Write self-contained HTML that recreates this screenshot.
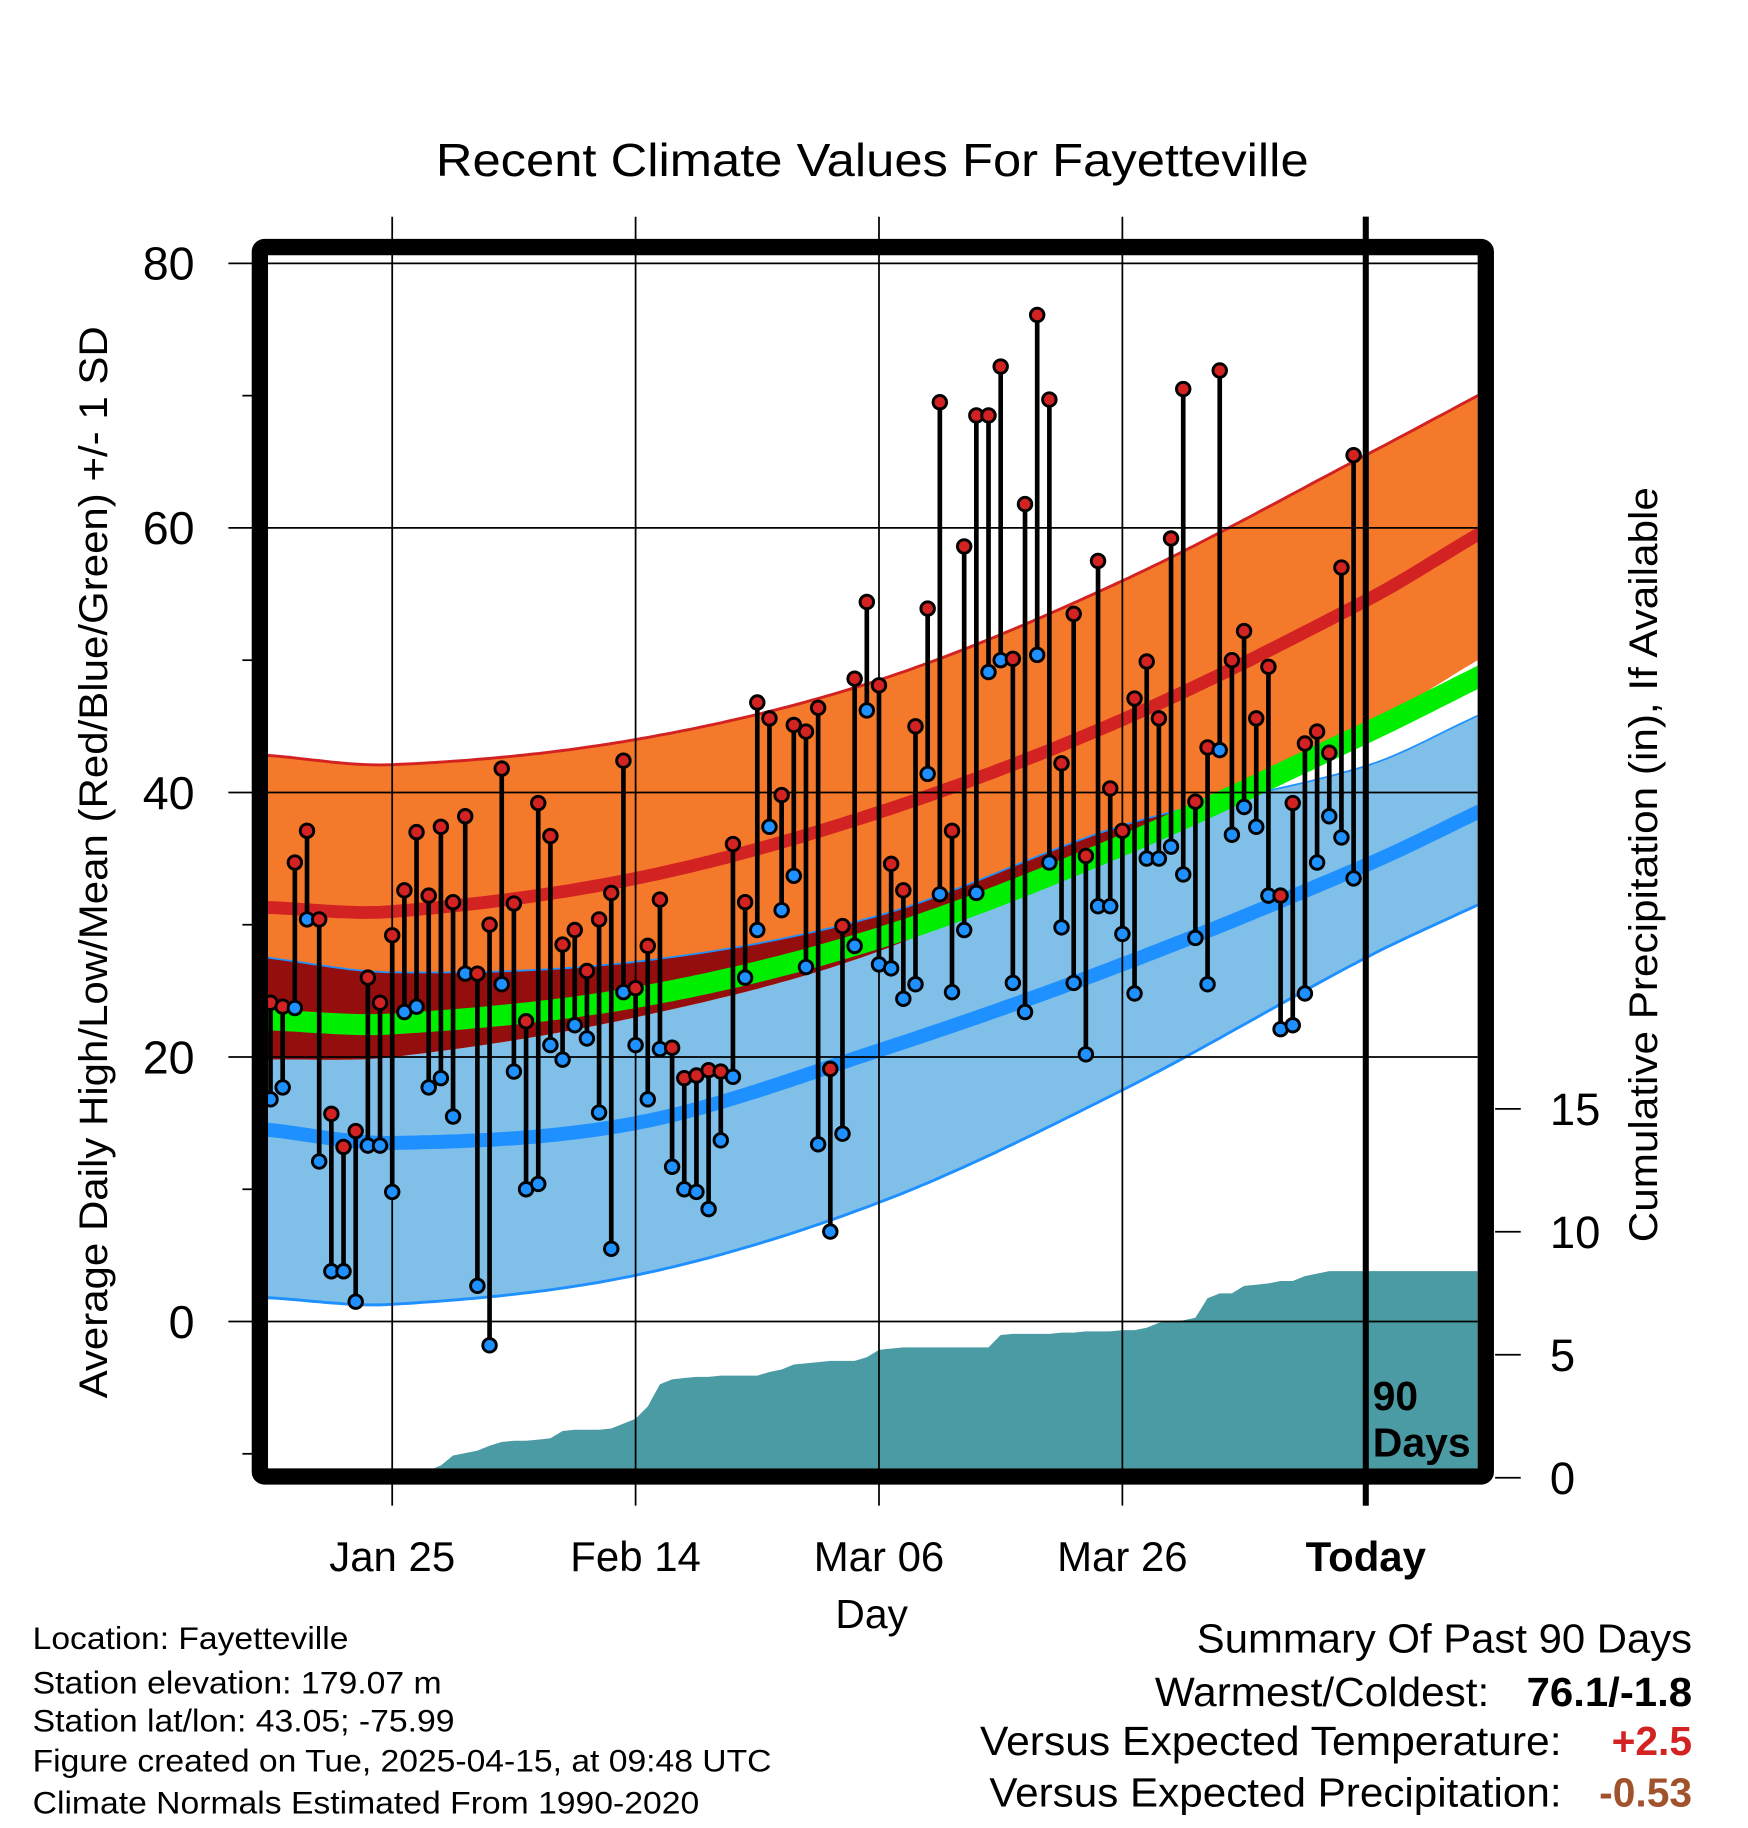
<!DOCTYPE html>
<html><head><meta charset="utf-8"><style>
html,body{margin:0;padding:0;background:#fff;}
svg{display:block;font-family:"Liberation Sans",sans-serif;}
</style></head><body>
<svg id="chart" width="1748" height="1828" viewBox="0 0 1500 1568.6" preserveAspectRatio="none" xmlns="http://www.w3.org/2000/svg">
<rect width="1500" height="1568.6" fill="#fff"/>
<g id="clip-defs"><defs><clipPath id="plotclip"><rect x="230" y="218" width="1038" height="1042"/></clipPath></defs></g>
<g id="bands" clip-path="url(#plotclip)"></g>
<g id="grid"></g>
<g id="marks" clip-path="url(#plotclip)"></g>
<g id="frame"></g>
<g id="texts">
<text x="374" y="151" font-size="40" textLength="749" lengthAdjust="spacingAndGlyphs">Recent Climate Values For Fayetteville</text>
<text transform="translate(92,740) rotate(-90)" text-anchor="middle" font-size="34" textLength="920" lengthAdjust="spacingAndGlyphs">Average Daily High/Low/Mean (Red/Blue/Green) +/- 1 SD</text>
<text transform="translate(1422,742) rotate(-90)" text-anchor="middle" font-size="34" textLength="648" lengthAdjust="spacingAndGlyphs">Cumulative Precipitation (in), If Available</text>
<text x="748" y="1397" text-anchor="middle" font-size="35">Day</text>
<text x="1178" y="1210" font-size="35" font-weight="bold">90</text>
<text x="1178" y="1250" font-size="35" font-weight="bold" textLength="84" lengthAdjust="spacingAndGlyphs">Days</text>
<g font-size="27">
<text x="28" y="1415" textLength="271" lengthAdjust="spacingAndGlyphs">Location: Fayetteville</text>
<text x="28" y="1453" textLength="351" lengthAdjust="spacingAndGlyphs">Station elevation: 179.07 m</text>
<text x="28" y="1486" textLength="362" lengthAdjust="spacingAndGlyphs">Station lat/lon: 43.05; -75.99</text>
<text x="28" y="1520" textLength="634" lengthAdjust="spacingAndGlyphs">Figure created on Tue, 2025-04-15, at 09:48 UTC</text>
<text x="28" y="1556" textLength="572" lengthAdjust="spacingAndGlyphs">Climate Normals Estimated From 1990-2020</text>
</g>
<g font-size="35">
<text x="1027" y="1418" textLength="425" lengthAdjust="spacingAndGlyphs">Summary Of Past 90 Days</text>
<text x="991" y="1464" textLength="287" lengthAdjust="spacingAndGlyphs">Warmest/Coldest:</text>
<text x="1310" y="1464" font-weight="bold" textLength="142" lengthAdjust="spacingAndGlyphs">76.1/-1.8</text>
<text x="841" y="1506" textLength="499" lengthAdjust="spacingAndGlyphs">Versus Expected Temperature:</text>
<text x="1452" y="1506" text-anchor="end" font-weight="bold" fill="#D22222">+2.5</text>
<text x="849" y="1550" textLength="491" lengthAdjust="spacingAndGlyphs">Versus Expected Precipitation:</text>
<text x="1452" y="1550" text-anchor="end" font-weight="bold" fill="#A0522D">-0.53</text>
</g>
</g>
</svg>
<script>
const highs=[24.1,23.8,34.7,37.1,30.4,15.7,13.2,14.4,26.0,24.1,29.2,32.6,37.0,32.2,37.4,31.7,38.2,26.3,30.0,41.8,31.6,22.7,39.2,36.7,28.5,29.6,26.5,30.4,32.4,42.4,25.2,28.4,31.9,20.7,18.4,18.6,19.0,18.9,36.1,31.7,46.8,45.6,39.8,45.1,44.6,46.4,19.1,29.9,48.6,54.4,48.1,34.6,32.6,45.0,53.9,69.5,37.1,58.6,68.5,68.5,72.2,50.1,61.8,76.1,69.7,42.2,53.5,35.2,57.5,40.3,37.1,47.1,49.9,45.6,59.2,70.5,39.3,43.4,71.9,50.0,52.2,45.6,49.5,32.2,39.2,43.7,44.6,43.0,57.0,65.5];
const lows=[16.8,17.7,23.7,30.4,12.1,3.8,3.8,1.5,13.3,13.3,9.8,23.4,23.8,17.7,18.4,15.5,26.3,2.7,-1.8,25.5,18.9,10.0,10.4,20.9,19.8,22.4,21.4,15.8,5.5,24.9,20.9,16.8,20.6,11.7,10.0,9.8,8.5,13.7,18.5,26.0,29.6,37.4,31.1,33.7,26.8,13.4,6.8,14.2,28.4,46.2,27.0,26.7,24.4,25.5,41.4,32.3,24.9,29.6,32.4,49.1,50.0,25.6,23.4,50.4,34.7,29.8,25.6,20.2,31.4,31.4,29.3,24.8,35.0,35.0,35.9,33.8,29.0,25.5,43.2,36.8,38.9,37.4,32.2,22.1,22.4,24.8,34.7,38.2,36.6,33.5];
const precip=[0,0,0,0,0,0,0,0,0,0,0,0,0.1,0.3,0.5,0.9,1.0,1.1,1.3,1.45,1.5,1.5,1.55,1.6,1.9,1.95,1.95,1.95,2.0,2.2,2.4,2.9,3.8,4.0,4.05,4.1,4.1,4.15,4.15,4.15,4.15,4.3,4.4,4.6,4.65,4.7,4.75,4.75,4.75,4.9,5.2,5.25,5.3,5.3,5.3,5.3,5.3,5.3,5.3,5.3,5.8,5.85,5.85,5.85,5.85,5.9,5.9,5.95,5.95,5.95,6.0,6.0,6.1,6.3,6.35,6.4,6.5,7.3,7.5,7.5,7.8,7.85,7.9,8.0,8.0,8.2,8.3,8.4,8.4,8.4];
const normalDays=[-90.2,-80,-60,-40,-20,0,9.2];
const highPlus=[42.8,42.1,44.0,48.5,56.0,65.5,70.0];
const highMean=[31.3,31.0,33.5,38.5,45.5,54.5,59.5];
const highMinus=[19.8,20.0,23.0,28.0,36.5,45.0,50.0];
const meanAvg=[22.8,22.5,24.5,29.0,36.0,44.5,48.7];
const lowPlus=[27.5,26.4,27.2,30.7,37.5,42.0,45.8];
const lowMean=[14.5,13.5,15.0,20.5,27.0,34.5,38.5];
const lowMinus=[1.8,1.3,3.5,9.0,17.5,27.5,31.5];
const yTicks=[0,20,40,60,80];
const y2Ticks=[0,5,10,15];
const xTickDays=[-80,-60,-40,-20,0];
const xTickLabels=['Jan 25','Feb 14','Mar 06','Mar 26','Today'];

const NS='http://www.w3.org/2000/svg';
const X=d=>1172+d*10.443;
const Y=t=>1134-t*11.35;
const Y2=p=>1268-p*21.1;
function el(tag,attrs,parent){const e=document.createElementNS(NS,tag);for(const k in attrs)e.setAttribute(k,attrs[k]);parent.appendChild(e);return e;}
function slope(arr,i){
  const n=arr.length;
  const a=Math.max(i-1,0),b=Math.min(i+1,n-1);
  return (arr[b]-arr[a])/(normalDays[b]-normalDays[a]);
}
function interp(arr,d){
  let i=0;while(i<normalDays.length-2&&d>normalDays[i+1])i++;
  const x0=normalDays[i],x1=normalDays[i+1],h=x1-x0,t=(d-x0)/h;
  const p1=arr[i],p2=arr[i+1],m1=slope(arr,i)*h,m2=slope(arr,i+1)*h;
  const t2=t*t,t3=t2*t;
  return (2*t3-3*t2+1)*p1+(t3-2*t2+t)*m1+(-2*t3+3*t2)*p2+(t3-t2)*m2;
}
const samples=[];for(let d=-91;d<=10;d+=0.5)samples.push(d);
function line(arr){return samples.map((d,i)=>(i?'L':'M')+X(d).toFixed(1)+','+Y(interp(arr,d)).toFixed(1)).join('');}
function band(upperFn,lowerFn){
  let s=samples.map((d,i)=>(i?'L':'M')+X(d).toFixed(1)+','+Y(upperFn(d)).toFixed(1)).join('');
  s+=samples.slice().reverse().map(d=>'L'+X(d).toFixed(1)+','+Y(lowerFn(d)).toFixed(1)).join('');
  return s+'Z';
}
const bands=document.getElementById('bands');
let e;
e=el('path',{d:band(d=>interp(lowPlus,d),d=>interp(lowMinus,d)),fill:'#80C0E8'},bands);


e=el('path',{d:band(d=>interp(highPlus,d),d=>interp(highMinus,d)),fill:'#F5792B'},bands);


e=el('path',{d:band(d=>Math.max(interp(lowPlus,d),interp(highMinus,d)),d=>interp(highMinus,d)),fill:'#950E0E'},bands);


e=el('path',{d:line(highPlus),fill:'none',stroke:'#D22222','stroke-width':2.5},bands);


e=el('path',{d:line(lowPlus),fill:'none',stroke:'#1E90FF','stroke-width':1.5},bands);


e=el('path',{d:line(lowMinus),fill:'none',stroke:'#1E90FF','stroke-width':2.5},bands);


e=el('path',{d:line(highMean),fill:'none',stroke:'#D22222','stroke-width':11},bands);


e=el('path',{d:line(lowMean),fill:'none',stroke:'#1E90FF','stroke-width':12},bands);


e=el('path',{d:line(meanAvg),fill:'none',stroke:'#00EE00','stroke-width':18},bands);


let pd='M'+X(-90)+','+Y2(0);
precip.forEach((p,i)=>{pd+='L'+X(i-90).toFixed(1)+','+Y2(p).toFixed(1);});
pd+='L1270,'+Y2(precip[precip.length-1]).toFixed(1)+'L1270,'+Y2(0)+'Z';
e=el('path',{d:pd,fill:'#4A9BA4'},bands);



const grid=document.getElementById('grid');
yTicks.forEach(t=>{
  e=el('line',{x1:196,x2:1268,y1:Y(t),y2:Y(t),stroke:'#000','stroke-width':1.5},grid);
  
  
  e=el('text',{x:167,y:Y(t)+14,'text-anchor':'end','font-size':40},grid);e.textContent=t;
  
  
});
[70,50,30,10,-10].forEach(t=>{el('line',{x1:208,x2:218,y1:Y(t),y2:Y(t),stroke:'#000','stroke-width':1.5},grid);});
y2Ticks.forEach(p=>{
  e=el('line',{x1:1283,x2:1305,y1:Y2(p),y2:Y2(p),stroke:'#000','stroke-width':1.5},grid);
  
  
  e=el('text',{x:1330,y:Y2(p)+14,'font-size':39},grid);e.textContent=p;
  
  
});
xTickDays.forEach((d,i)=>{
  const today=d===0;
  e=el('line',{x1:X(d),x2:X(d),y1:186,y2:1292,stroke:'#000','stroke-width':today?5:1.5},grid);
  
  
  e=el('text',{x:X(d),y:1348,'text-anchor':'middle','font-size':36,'font-weight':today?'bold':'normal'},grid);e.textContent=xTickLabels[i];
  
  
});

const marks=document.getElementById('marks');
highs.forEach((h,i)=>{
  const x=X(i-90),l=lows[i];
  const g=el('g',{},marks);
  
  
  el('line',{x1:x,x2:x,y1:Y(h),y2:Y(l),stroke:'#000','stroke-width':4},g);
  e=el('circle',{cx:x,cy:Y(h),r:5.8,fill:'#D22222',stroke:'#000','stroke-width':2.5},g);
  
  
  e=el('circle',{cx:x,cy:Y(l),r:5.8,fill:'#1E90FF',stroke:'#000','stroke-width':2.5},g);
  
  
});

const frame=document.getElementById('frame');
e=el('rect',{x:223,y:212,width:1052,height:1055,fill:'none',stroke:'#000','stroke-width':14,rx:4},frame);


el('line',{x1:X(0),x2:X(0),y1:186,y2:1292,stroke:'#000','stroke-width':5},frame);
document.getElementById('chart').appendChild(document.getElementById('texts'));
</script>
</body></html>
